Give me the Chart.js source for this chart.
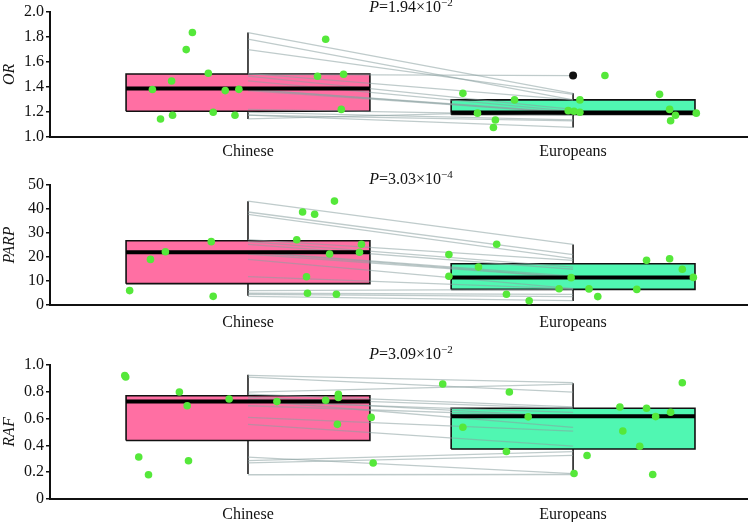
<!DOCTYPE html>
<html>
<head>
<meta charset="utf-8">
<script src="https://cdn.jsdelivr.net/npm/chart.js@4.4.1/dist/chart.umd.min.js"></script>
<style>
  html, body { margin: 0; padding: 0; background: #ffffff; }
  #wrap { position: relative; width: 751px; height: 522px; background: #ffffff; }
  canvas { position: absolute; left: 0; }
</style>
</head>
<body>
<div id="wrap">
  <canvas id="c1" width="751" height="170" style="top:0px"></canvas>
  <canvas id="c2" width="751" height="170" style="top:170px"></canvas>
  <canvas id="c3" width="751" height="182" style="top:340px"></canvas>
</div>
<script>
// ---------------- DATA ----------------
const groups = ['Chinese', 'Europeans'];
const groupPos = [1, 2];

// OR panel (paired by index)
const orChinese   = [1.833, 1.78, 1.697, 1.508, 1.5, 1.485, 1.447, 1.38, 1.379, 1.37, 1.22, 1.197, 1.174, 1.174, 1.144];
const orEuropeans = [1.348, 1.296, 1.34, 1.296, 1.49, 1.22, 1.205, 1.197, 1.19, 1.19, 1.174, 1.136, 1.129, 1.076, 1.21];
const orChineseJitter   = [-0.171, 0.239, -0.190, -0.122, 0.294, 0.214, -0.235, -0.028, -0.294, -0.070, 0.287, -0.107, -0.232, -0.040, -0.269];
const orEuropeansJitter = [-0.339, -0.180, 0.266, 0.021, 0.098, 0.297, 0.003, 0.021, -0.294, 0.379, 0.315, -0.239, 0.300, -0.245, -0.015];
// [lower whisker, Q1, median, Q3, upper whisker]
const orChineseBox   = [1.144, 1.205, 1.386, 1.502, 1.833];
const orEuropeansBox = [1.076, 1.18, 1.195, 1.296, 1.348];
const orChineseOutliers   = [];
const orEuropeansOutliers = [1.49];
const orTicks = ['1.0', '1.2', '1.4', '1.6', '1.8', '2.0'];

// PARP panel
const parpChinese   = [43.3, 38.75, 37.8, 27.2, 26.4, 25.3, 22.2, 22.0, 21.25, 19.0, 11.8, 6.0, 4.9, 4.45, 3.6];
const parpEuropeans = [25.3, 21.0, 19.3, 18.6, 15.8, 14.9, 12.0, 11.5, 11.4, 6.8, 6.7, 6.5, 4.45, 3.5, 1.8];
const parpChineseJitter   = [0.266, 0.168, 0.205, 0.150, -0.113, 0.349, -0.254, 0.343, 0.251, -0.300, 0.180, -0.364, 0.183, 0.272, -0.107];
const parpEuropeansJitter = [-0.235, -0.382, 0.297, 0.226, -0.291, 0.336, -0.382, 0.370, -0.006, -0.043, 0.049, 0.196, -0.205, 0.076, -0.135];
const parpChineseBox   = [3.9, 8.9, 22.0, 26.8, 43.2];
const parpEuropeansBox = [1.7, 6.5, 11.5, 17.2, 25.2];
const parpChineseOutliers   = [];
const parpEuropeansOutliers = [];
const parpTicks = ['0', '10', '20', '30', '40', '50'];

// RAF panel
const rafChinese   = [0.922, 0.91, 0.798, 0.782, 0.758, 0.746, 0.737, 0.727, 0.696, 0.609, 0.557, 0.313, 0.286, 0.269, 0.181];
const rafEuropeans = [0.868, 0.798, 0.858, 0.687, 0.677, 0.613, 0.535, 0.647, 0.615, 0.507, 0.394, 0.19, 0.354, 0.325, 0.183];
const rafChineseJitter   = [-0.379, -0.376, -0.211, 0.278, 0.278, -0.058, 0.239, 0.089, -0.187, 0.379, 0.275, -0.336, -0.183, 0.385, -0.306];
const rafEuropeansJitter = [0.336, -0.196, -0.401, 0.144, 0.226, -0.138, -0.339, 0.300, 0.254, 0.153, 0.205, 0.003, -0.205, 0.043, 0.245];
const rafChineseBox   = [0.187, 0.437, 0.728, 0.771, 0.927];
const rafEuropeansBox = [0.187, 0.373, 0.617, 0.677, 0.863];
const rafChineseOutliers   = [];
const rafEuropeansOutliers = [];
const rafTicks = ['0', '0.2', '0.4', '0.6', '0.8', '1.0'];

const pValues = [
  { mant: '1.94', exp: '\u22122' },
  { mant: '3.03', exp: '\u22124' },
  { mant: '3.09', exp: '\u22122' }
];

// ---------------- STYLE ----------------
const FONT = "'Liberation Serif', 'Times New Roman', serif";
const BOX_HALF = 0.375;
const boxColors = ['#ff6fa3', '#50f7b2'];
const pointColor = '#55e83a';
const pairColor = 'rgba(138,160,160,0.55)';

const pTitlePlugin = {
  id: 'pTitle',
  afterDraw(chart, args, opts) {
    const ctx = chart.ctx;
    ctx.save();
    ctx.fillStyle = '#111';
    ctx.textBaseline = 'middle';
    const fItalic = 'italic 16px ' + FONT;
    const fNorm = '16px ' + FONT;
    const fSup = '11px ' + FONT;
    ctx.font = fItalic; const w1 = ctx.measureText('P').width;
    const main = '=' + opts.mant + '\u00d710';
    ctx.font = fNorm; const w2 = ctx.measureText(main).width;
    ctx.font = fSup; const w3 = ctx.measureText(opts.exp).width;
    let x = opts.cx - (w1 + w2 + w3) / 2;
    const y = opts.y;
    ctx.textAlign = 'left';
    ctx.font = fItalic; ctx.fillText('P', x, y); x += w1;
    ctx.font = fNorm; ctx.fillText(main, x, y); x += w2;
    ctx.font = fSup; ctx.fillText(opts.exp, x, y - 5);
    ctx.restore();
  }
};

function makePanel(id, p) {
  const datasets = [];
  const gap = { x: 1.5, y: null };
  // whiskers
  datasets.push({
    type: 'line', order: 6,
    data: [{ x: groupPos[0], y: p.box[0][0] }, { x: groupPos[0], y: p.box[0][4] }, gap,
           { x: groupPos[1], y: p.box[1][0] }, { x: groupPos[1], y: p.box[1][4] }],
    borderColor: '#111', borderWidth: 1.5, pointRadius: 0, fill: false
  });
  // boxes
  for (let g = 0; g < 2; g++) {
    const c = groupPos[g], b = p.box[g];
    datasets.push({
      type: 'line', order: 5,
      data: [{ x: c - BOX_HALF, y: b[1] }, { x: c + BOX_HALF, y: b[1] }, { x: c + BOX_HALF, y: b[3] },
             { x: c - BOX_HALF, y: b[3] }, { x: c - BOX_HALF, y: b[1] }],
      borderColor: '#111', borderWidth: 1.6, backgroundColor: boxColors[g],
      fill: 'shape', pointRadius: 0, tension: 0
    });
  }
  // paired lines
  for (let i = 0; i < p.vals[0].length; i++) {
    datasets.push({
      type: 'line', order: 4,
      data: [{ x: groupPos[0], y: p.vals[0][i] }, { x: groupPos[1], y: p.vals[1][i] }],
      borderColor: pairColor, borderWidth: 1.3, pointRadius: 0, fill: false
    });
  }
  // medians
  datasets.push({
    type: 'line', order: 3,
    data: [{ x: groupPos[0] - BOX_HALF, y: p.box[0][2] }, { x: groupPos[0] + BOX_HALF, y: p.box[0][2] }, gap,
           { x: groupPos[1] - BOX_HALF, y: p.box[1][2] }, { x: groupPos[1] + BOX_HALF, y: p.box[1][2] }],
    borderColor: '#000', borderWidth: 4, pointRadius: 0, fill: false
  });
  // outliers
  const outl = [];
  for (let g = 0; g < 2; g++) p.outliers[g].forEach(v => outl.push({ x: groupPos[g], y: v }));
  datasets.push({
    type: 'line', order: 2, showLine: false, data: outl,
    pointRadius: 4, pointBackgroundColor: '#111', pointBorderWidth: 0
  });
  // jittered points
  const pts = [];
  for (let g = 0; g < 2; g++) p.vals[g].forEach((v, i) => pts.push({ x: groupPos[g] + p.jit[g][i], y: v }));
  datasets.push({
    type: 'line', order: 1, showLine: false, data: pts,
    pointRadius: 3.8, pointBackgroundColor: pointColor, pointBorderWidth: 0
  });

  new Chart(document.getElementById(id), {
    type: 'line',
    data: { datasets },
    plugins: [pTitlePlugin],
    options: {
      responsive: false, animation: false, devicePixelRatio: 1,
      layout: { padding: { top: p.padTop, left: 0, right: 0, bottom: 0 } },
      plugins: {
        legend: { display: false }, tooltip: { enabled: false },
        pTitle: { mant: p.pv.mant, exp: p.pv.exp, cx: 411, y: p.titleY }
      },
      scales: {
        x: {
          type: 'linear', min: 0.391, max: 2.535,
          afterBuildTicks: s => { s.ticks = groupPos.map(v => ({ value: v })); },
          afterFit: s => { s.height = p.xH; },
          grid: { display: false, drawTicks: false, tickLength: 0 },
          border: { display: true, color: '#111', width: 2 },
          ticks: { callback: (v, i) => groups[i], font: { family: FONT, size: 16 }, color: '#111', padding: p.xPad, maxRotation: 0, autoSkip: false }
        },
        y: {
          min: p.min, max: p.max,
          afterBuildTicks: s => { s.ticks = p.ticks.map((t, i) => ({ value: p.min + i * (p.max - p.min) / (p.ticks.length - 1) })); },
          afterFit: s => { s.width = 50; },
          grid: { display: true, drawOnChartArea: false, drawTicks: true, tickLength: 4, color: '#111', lineWidth: 1.5 },
          border: { display: true, color: '#111', width: 2 },
          ticks: { callback: (v, i) => p.ticks[i], font: { family: FONT, size: 16 }, color: '#111', padding: 2 },
          title: { display: true, text: p.title, font: { family: FONT, size: 16, style: 'italic' }, color: '#111', padding: { top: 0, bottom: 0 } }
        }
      }
    }
  });
}

makePanel('c1', {
  vals: [orChinese, orEuropeans], jit: [orChineseJitter, orEuropeansJitter],
  box: [orChineseBox, orEuropeansBox], outliers: [orChineseOutliers, orEuropeansOutliers],
  ticks: orTicks, min: 1.0, max: 2.0, title: 'OR', pv: pValues[0],
  padTop: 5, xH: 33, titleY: 8, xPad: 5
});
makePanel('c2', {
  vals: [parpChinese, parpEuropeans], jit: [parpChineseJitter, parpEuropeansJitter],
  box: [parpChineseBox, parpEuropeansBox], outliers: [parpChineseOutliers, parpEuropeansOutliers],
  ticks: parpTicks, min: 0, max: 50, title: 'PARP', pv: pValues[1],
  padTop: 15, xH: 35, titleY: 10, xPad: 8
});
makePanel('c3', {
  vals: [rafChinese, rafEuropeans], jit: [rafChineseJitter, rafEuropeansJitter],
  box: [rafChineseBox, rafEuropeansBox], outliers: [rafChineseOutliers, rafEuropeansOutliers],
  ticks: rafTicks, min: 0, max: 1.0, title: 'RAF', pv: pValues[2],
  padTop: 25, xH: 23, titleY: 15, xPad: 6
});
</script>
</body>
</html>
